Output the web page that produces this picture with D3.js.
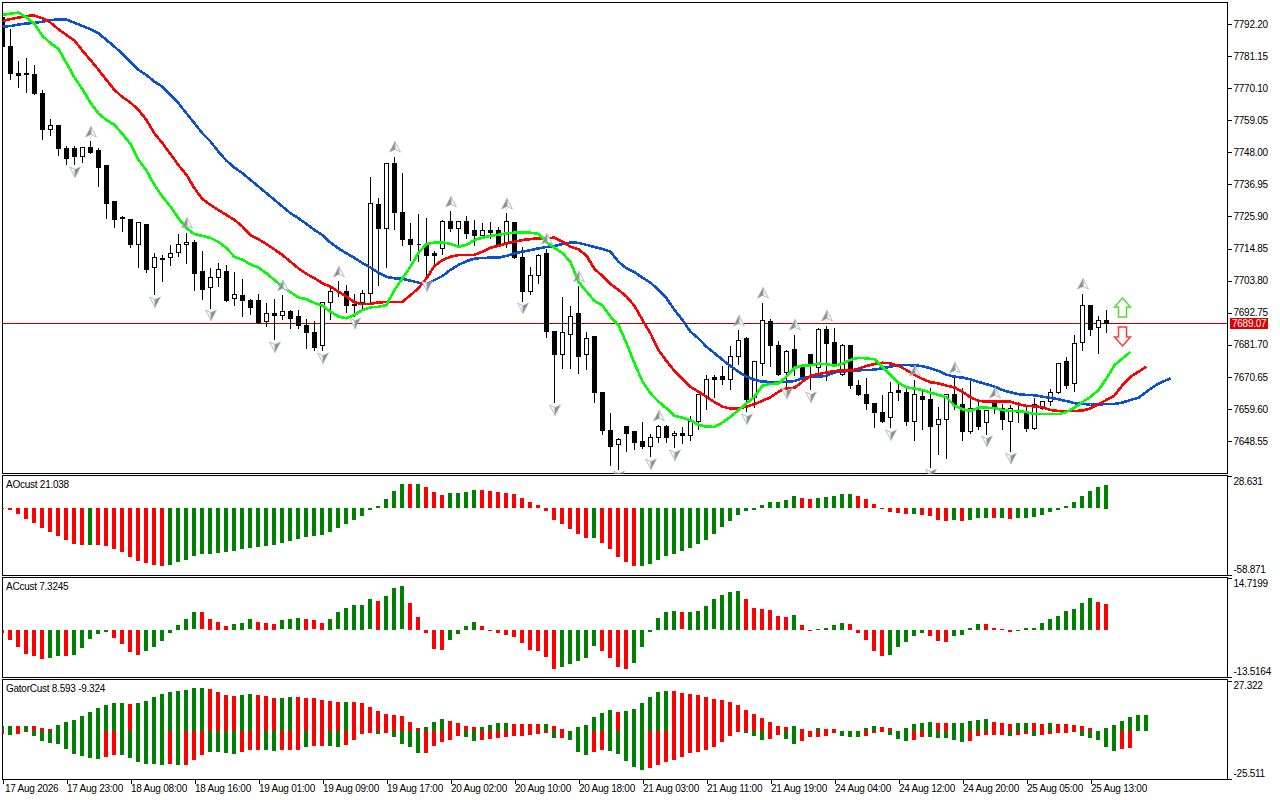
<!DOCTYPE html>
<meta charset="utf-8">
<title>Chart</title>
<style>
  body { margin: 0; background: #fff; }
  text { font: 10px "Liberation Sans", sans-serif; letter-spacing: -0.25px; fill: #000; }
  .frame { fill: none; stroke: #000; shape-rendering: crispEdges; }
  .axis path { display: none; }
  .axis line { stroke: #000; shape-rendering: crispEdges; }
  .axis text { font: 10px "Liberation Sans", sans-serif; letter-spacing: -0.25px; }
</style>
<body>
<svg width="1280" height="800"></svg>
<script src="https://d3js.org/d3.v7.min.js"></script>
<script>
/* candles */
var opens = [7794.6,7784.3,7775.3,7775.0,7774.9,7768.4,7755.7,7757.1,7749.2,7749.2,
7746.4,7749.5,7748.5,7743.3,7730.9,7725.4,7725.0,7716.1,7723.3,7708.2,
7711.2,7711.9,7713.6,7716.1,7717.1,7706.8,7701.3,7704.7,7707.1,7697.5,
7698.5,7697.1,7697.1,7689.6,7692.6,7691.9,7693.3,7691.6,7688.5,7685.8,
7681.3,7696.1,7700.2,7699.9,7695.4,7696.1,7699.5,7729.9,7721.9,7744.0,
7727.4,7718.1,7716.4,7716.1,7713.3,7715.0,7724.0,7721.6,7724.3,7720.9,
7719.5,7721.2,7720.9,7716.8,7723.7,7711.6,7700.2,7705.7,7713.0,7686.1,
7678.5,7685.4,7692.3,7678.5,7684.4,7665.1,7652.3,7647.5,7653.7,7651.7,
7648.5,7646.8,7649.6,7653.4,7650.6,7651.3,7650.6,7655.4,7664.0,7670.3,
7670.6,7669.9,7677.5,7683.7,7663.4,7675.4,7689.6,7681.6,7672.0,7679.9,
7674.0,7678.5,7674.0,7687.1,7682.6,7671.6,7681.3,7667.8,7664.7,7661.3,
7658.2,7656.5,7665.8,7665.4,7655.4,7664.0,7663.0,7654.1,7655.8,7664.7,
7661.0,7651.7,7658.9,7654.8,7661.3,7659.9,7655.1,7658.9,7658.2,7653.0,
7659.9,7662.0,7665.4,7675.8,7668.2,7682.6,7695.1,7687.5,7690.2];
var highs = [7795.6,7790.5,7779.8,7780.8,7778.4,7769.8,7759.8,7757.4,7750.2,7750.2,
7749.9,7751.9,7749.8,7743.6,7731.2,7726.4,7725.0,7723.7,7723.4,7713.6,
7712.9,7716.1,7720.2,7720.5,7717.8,7714.3,7708.2,7710.2,7709.5,7707.1,
7704.4,7697.5,7699.2,7696.1,7697.8,7698.9,7694.0,7693.7,7690.6,7689.9,
7696.5,7702.3,7703.7,7702.6,7699.5,7700.9,7739.8,7732.6,7744.0,7746.7,
7741.2,7723.7,7726.8,7725.4,7714.3,7725.0,7727.8,7724.3,7726.1,7725.0,
7723.7,7724.3,7722.6,7727.1,7723.8,7715.4,7708.8,7713.0,7715.0,7686.4,
7698.2,7695.1,7702.0,7686.4,7684.5,7665.2,7658.2,7649.6,7653.8,7651.8,
7655.1,7651.0,7654.1,7654.1,7652.3,7653.4,7657.5,7664.4,7671.3,7671.3,
7674.4,7681.6,7686.8,7684.7,7676.1,7696.4,7690.9,7683.0,7679.9,7685.4,
7674.1,7678.6,7687.5,7688.5,7687.5,7682.3,7681.4,7669.9,7670.3,7661.4,
7664.4,7668.9,7669.2,7667.1,7669.6,7666.1,7667.1,7660.3,7664.4,7670.6,
7667.1,7670.3,7662.0,7659.3,7662.0,7661.6,7661.0,7662.3,7661.0,7663.7,
7662.3,7666.5,7675.1,7677.8,7685.4,7699.5,7695.2,7691.9,7693.7];
var lows = [7784.3,7773.6,7770.8,7768.8,7768.1,7752.6,7754.0,7747.1,7744.0,7744.0,
7745.0,7747.8,7736.4,7725.4,7722.3,7721.2,7715.7,7708.5,7707.1,7699.2,
7703.7,7709.5,7712.3,7709.9,7700.6,7697.8,7694.7,7702.0,7697.1,7695.7,
7691.7,7692.6,7689.2,7688.5,7683.7,7690.9,7687.5,7687.5,7680.9,7679.9,
7679.9,7690.9,7698.5,7693.3,7691.9,7694.7,7696.4,7702.6,7708.8,7721.6,
7716.1,7711.2,7710.6,7704.7,7708.8,7713.0,7721.2,7715.4,7718.5,7716.4,
7718.8,7718.5,7716.1,7715.7,7711.6,7697.1,7699.2,7703.3,7684.7,7662.0,
7674.0,7673.7,7672.0,7673.4,7662.0,7651.0,7640.3,7639.2,7645.4,7646.1,
7646.4,7643.4,7648.5,7648.5,7646.5,7648.2,7649.2,7653.0,7659.9,7664.0,
7668.2,7666.8,7675.1,7658.9,7660.3,7671.6,7674.4,7671.6,7667.8,7671.3,
7669.6,7666.5,7670.6,7669.9,7675.1,7671.5,7667.1,7664.4,7659.9,7653.7,
7655.4,7653.4,7662.7,7654.4,7649.2,7653.0,7639.9,7644.4,7642.7,7659.6,
7649.2,7651.6,7653.0,7651.3,7658.5,7653.0,7645.4,7655.1,7652.0,7652.9,
7659.8,7661.0,7665.3,7667.1,7665.8,7679.9,7685.1,7678.9,7686.4];
var closes = [7784.3,7775.0,7774.3,7774.9,7768.4,7755.7,7757.1,7749.2,7745.7,7746.7,
7749.8,7748.1,7742.6,7730.5,7725.0,7725.3,7716.4,7723.7,7707.8,7711.6,
7711.3,7713.3,7716.4,7717.1,7706.1,7700.6,7704.7,7707.5,7697.1,7698.9,
7697.1,7694.4,7689.2,7692.6,7691.9,7693.3,7690.9,7688.2,7685.8,7680.9,
7696.4,7700.2,7700.1,7695.1,7695.3,7699.5,7730.2,7721.6,7744.0,7727.1,
7717.8,7716.1,7716.3,7712.3,7712.3,7724.0,7721.6,7724.0,7720.2,7719.2,
7721.2,7720.5,7716.4,7724.3,7711.6,7700.2,7705.7,7712.6,7686.1,7678.5,
7685.8,7691.6,7677.8,7684.0,7665.1,7652.0,7646.5,7648.9,7651.3,7648.2,
7646.5,7649.6,7653.4,7649.9,7651.3,7650.6,7655.4,7664.4,7669.9,7669.9,
7669.9,7677.5,7683.3,7662.7,7676.1,7689.9,7681.3,7671.6,7679.5,7674.0,
7670.3,7674.4,7687.1,7682.0,7675.1,7681.6,7667.5,7664.4,7661.3,7658.2,
7655.4,7665.4,7665.1,7655.1,7664.7,7662.7,7653.4,7655.8,7664.4,7661.0,
7651.7,7659.9,7653.7,7659.2,7659.9,7655.8,7659.6,7658.5,7653.0,7661.0,
7662.3,7665.1,7675.1,7667.8,7682.3,7695.1,7687.1,7689.9,7689.07];

/* alligator lines */
var lipsGreen = [7795.3,7795.8,7796.1,7794.5,7792.2,7788.1,7785.6,7783.6,7778.7,7773.8,
7769.7,7765.1,7761.4,7759.1,7757.4,7754.3,7750.9,7745.4,7741.7,7736.7,
7732.7,7729.3,7725.3,7721.8,7719.8,7719.2,7718.5,7717.1,7715.0,7712.0,
7711.0,7709.4,7708.3,7706.3,7704.0,7701.7,7699.8,7698.0,7697.4,7696.1,
7695.2,7693.1,7691.4,7690.8,7692.0,7693.7,7694.6,7694.8,7695.4,7700.6,
7704.6,7708.6,7713.4,7716.4,7716.9,7717.0,7716.4,7715.5,7716.1,7717.8,
7718.6,7719.2,7719.6,7720.1,7720.3,7720.4,7720.3,7719.9,7717.1,7715.0,
7713.3,7710.2,7703.4,7700.0,7696.8,7695.2,7691.4,7688.5,7682.2,7675.3,
7669.0,7665.0,7662.1,7659.8,7657.2,7656.6,7655.7,7654.1,7653.5,7653.4,
7654.9,7656.9,7659.2,7661.5,7663.8,7667.6,7668.2,7668.3,7670.7,7673.8,
7674.5,7674.6,7675.2,7675.0,7674.5,7675.1,7676.5,7677.2,7677.0,7676.7,
7674.1,7671.3,7668.6,7667.0,7666.6,7666.1,7665.2,7664.4,7663.6,7660.7,
7659.5,7658.9,7660.0,7660.0,7659.9,7659.2,7658.9,7658.8,7658.5,7657.8,
7657.8,7657.8,7657.8,7658.5,7660.0,7661.9,7663.8,7666.1,7670.1,7674.7,
7677.0,7679.3];
var teethRed = [7793.2,7793.9,7794.4,7795.0,7795.1,7794.2,7792.7,7790.4,7788.4,7786.5,
7783.0,7779.8,7776.4,7772.9,7769.5,7767.0,7765.1,7762.6,7759.1,7754.5,
7751.1,7747.4,7743.6,7740.2,7735.6,7731.9,7729.9,7728.1,7726.4,7724.7,
7722.4,7719.5,7718.0,7716.4,7714.5,7712.6,7710.3,7708.0,7706.1,7704.6,
7702.9,7701.7,7700.0,7698.3,7696.3,7695.7,7695.8,7696.3,7696.4,7696.4,
7696.5,7698.8,7701.2,7704.6,7708.8,7710.9,7712.0,7712.6,7712.6,7712.7,
7713.8,7715.1,7715.8,7716.6,7717.2,7717.8,7718.1,7718.4,7718.4,7718.6,
7717.2,7715.5,7714.6,7712.4,7707.8,7705.4,7702.6,7700.6,7698.3,7695.1,
7690.2,7685.6,7679.9,7676.1,7672.7,7669.9,7667.2,7665.5,7663.8,7661.9,
7660.4,7659.7,7659.8,7660.4,7661.2,7662.4,7663.6,7665.5,7666.7,7666.9,
7669.0,7671.0,7671.6,7672.1,7672.7,7672.8,7672.8,7673.4,7674.4,7675.1,
7675.5,7675.3,7674.4,7673.0,7671.3,7669.9,7668.8,7668.4,7667.6,7667.0,
7665.5,7663.6,7662.4,7662.1,7662.1,7662.1,7662.1,7661.2,7660.6,7660.5,
7660.2,7659.2,7658.9,7658.9,7658.9,7659.0,7659.8,7661.2,7662.7,7664.2,
7667.8,7670.7,7672.4,7674.2];
var jawBlue = [7791.3,7791.5,7792.0,7792.4,7792.6,7793.0,7793.6,7793.7,7793.7,7792.6,
7791.5,7790.4,7789.0,7786.7,7784.4,7781.9,7779.2,7776.4,7774.6,7772.3,
7770.6,7767.7,7764.9,7761.4,7758.0,7754.5,7751.7,7748.2,7745.1,7742.7,
7740.8,7738.5,7736.2,7733.9,7731.6,7729.3,7727.0,7725.3,7723.3,7721.2,
7719.5,7716.9,7714.9,7713.2,7711.6,7709.8,7708.3,7706.5,7705.1,7704.6,
7704.4,7703.8,7703.1,7702.6,7704.0,7705.4,7707.5,7709.2,7710.5,7711.4,
7711.6,7711.7,7711.7,7712.3,7713.2,7713.8,7714.3,7714.9,7715.4,7715.7,
7716.4,7716.9,7716.8,7716.1,7715.4,7714.7,7713.8,7710.3,7708.0,7706.7,
7704.8,7703.1,7700.6,7697.7,7693.7,7690.2,7686.2,7683.9,7681.0,7678.8,
7676.5,7674.4,7672.4,7670.7,7669.6,7669.0,7668.9,7668.9,7668.9,7669.2,
7670.2,7670.7,7670.7,7671.0,7672.2,7672.4,7672.8,7672.9,7673.0,7673.1,
7673.6,7674.2,7674.6,7674.7,7674.6,7674.3,7673.6,7672.7,7671.4,7670.7,
7670.4,7669.8,7668.9,7668.1,7667.3,7666.1,7665.3,7664.7,7664.4,7664.3,
7663.8,7663.4,7662.9,7662.3,7661.6,7661.3,7661.1,7661.1,7661.3,7661.3,
7661.8,7662.7,7663.4,7665.5,7667.5,7668.9,7670.2];

/* fractal bars */
var fractalUp = [11,23,35,42,49,56,63,68,72,82,92,95,99,103,114,119,124,135];
var fractalDown = [9,19,26,34,40,44,53,65,69,77,81,84,93,98,101,111,116,123,126];

/* oscillators */
var aoValues = [-0.3,-1.5,-5.3,-9.5,-13.3,-17.8,-21.3,-24.9,-28.4,-32.0,
-32.9,-32.9,-32.9,-33.7,-36.4,-39.1,-43.5,-47.1,-48.8,-50.6,
-51.5,-50.6,-48.0,-46.2,-42.6,-40.8,-40.8,-40.0,-39.1,-38.2,
-36.4,-35.5,-34.6,-33.7,-32.9,-31.1,-29.3,-27.5,-25.8,-24.9,
-24.0,-21.3,-17.8,-14.2,-10.7,-7.1,-1.8,1.8,8.0,15.1,
21.3,21.3,21.3,18.6,14.2,11.5,13.3,13.3,14.2,16.0,
16.0,15.1,14.2,13.3,12.4,8.9,5.3,2.7,-2.7,-10.7,
-14.2,-18.6,-23.1,-26.6,-26.6,-31.1,-36.4,-43.5,-48.0,-51.5,
-51.5,-49.7,-46.2,-42.6,-40.8,-38.2,-35.5,-32.0,-28.4,-23.1,
-16.9,-11.5,-6.2,-2.7,-1.8,2.7,5.3,5.3,7.1,10.7,
8.9,8.0,8.9,9.8,10.7,12.4,12.4,10.7,8.0,3.6,
-0.8,-3.6,-4.4,-5.3,-5.3,-6.2,-7.1,-10.7,-11.5,-10.7,
-11.5,-10.7,-8.9,-8.9,-8.9,-8.9,-9.8,-8.9,-8.9,-8.0,
-6.2,-3.6,-1.8,1.8,5.3,10.7,15.1,18.6,21.038];
var aoRuns = [11,1,9,30,1,1,3,4,14,1,5,20,2,5,7,1,4,1,1,3,1,1,1,12]; // red first

var acValues = [-0.9,-2.9,-4.9,-6.8,-7.4,-8.3,-8.0,-7.4,-7.4,-7.1,
-5.1,-2.6,-1.1,-0.6,-2.3,-4.0,-6.3,-7.1,-6.0,-4.9,
-3.1,-0.9,1.4,3.1,4.9,4.9,3.1,2.3,1.1,1.7,
2.0,2.9,2.3,2.0,1.7,2.6,2.9,3.4,3.1,2.6,
2.0,3.1,4.9,6.3,7.1,7.1,8.6,8.3,9.7,12.0,
12.3,7.7,3.7,-0.9,-5.4,-5.7,-2.9,-1.1,1.1,2.3,
1.1,-0.2,-0.9,-1.4,-2.0,-3.7,-5.7,-6.0,-7.7,-11.1,
-10.6,-9.7,-8.8,-8.0,-4.6,-6.0,-8.0,-10.6,-11.1,-9.4,
-4.9,-0.6,3.4,5.1,5.4,4.9,5.1,5.4,6.8,8.6,
10.0,10.8,11.1,8.8,6.3,6.0,5.7,4.0,3.7,4.3,
1.4,-0.2,0.2,0.6,1.4,2.0,1.7,-0.9,-2.9,-6.0,
-7.4,-7.1,-4.9,-3.4,-1.7,-0.9,-1.7,-3.1,-3.4,-1.7,
-1.4,0.6,1.7,1.7,0.6,0.3,-0.6,-0.2,0.6,0.6,
2.0,3.1,4.0,5.4,6.0,7.7,9.1,8.0,7.3245];
var acRuns = [6,2,1,5,4,7,4,3,3,3,3,6,1,3,5,4,10,5,4,6,1,7,6,1,2,4,5,5,3,4,4,10,2]; // red first

var gatorUp = [2.7,2.7,2.7,2.7,2.7,1.6,1.1,3.2,4.9,5.9,
8.1,10.2,12.4,14.0,15.1,15.1,14.6,15.1,16.2,18.3,
19.9,21.0,21.6,22.1,23.2,23.2,22.6,21.0,19.4,18.9,
19.4,19.9,19.4,18.9,17.8,17.8,18.3,18.3,17.8,17.8,
16.7,16.2,15.6,15.6,15.6,15.1,12.9,10.8,9.2,8.6,
8.1,4.9,1.6,2.2,4.9,6.5,5.4,4.3,2.7,2.2,
2.2,3.2,4.3,4.3,3.8,3.8,3.8,3.8,3.8,2.7,
1.1,0.5,2.2,3.2,7.5,9.7,11.3,10.2,10.8,11.9,
15.1,18.3,21.0,21.6,21.6,20.5,19.9,19.4,18.3,17.3,
16.7,15.6,14.0,11.3,9.2,7.0,4.9,2.7,2.2,2.7,
1.1,0.5,1.6,1.1,1.1,0.5,0,0.5,1.6,2.7,
2.2,1.6,0.5,1.6,3.8,4.3,4.9,4.3,4.3,4.3,
4.3,5.4,5.9,6.5,4.9,4.3,3.8,4.3,4.3,4.3,
3.8,4.3,3.8,3.8,3.2,2.7,1.6,0.5,1.6,3.2,
5.4,7.5,8.6,8.593];
var gatorUpRuns = [2,1,1,3,9,1,9,4,2,3,2,6,1,9,3,4,4,4,1,2,6,1,6,15,1,2,1,3,4,3,4,2,5,3,2,2,1,6,6]; // green first

var gatorDown = [-1.6,-2.2,-1.6,-0.5,-2.7,-5.4,-6.5,-7.0,-9.7,-12.4,
-13.5,-14.6,-15.1,-14.0,-12.9,-12.9,-14.6,-16.7,-17.8,-17.8,
-18.3,-17.8,-18.3,-18.3,-15.6,-12.9,-11.3,-11.3,-11.9,-12.4,
-11.3,-10.2,-10.2,-10.2,-10.8,-10.2,-10.2,-10.2,-8.6,-8.1,
-8.1,-8.1,-8.6,-7.5,-4.9,-1.6,-1.1,-1.6,-1.1,-3.2,
-7.0,-8.6,-11.9,-11.9,-8.1,-5.9,-4.9,-2.7,-3.2,-5.4,
-4.9,-4.3,-3.8,-3.2,-2.7,-2.7,-2.2,-1.6,-1.1,-3.8,
-3.8,-4.9,-11.3,-12.9,-11.3,-10.2,-10.8,-12.4,-16.2,-19.4,
-21.0,-19.9,-18.3,-16.7,-15.6,-14.0,-11.9,-11.3,-10.2,-8.6,
-5.9,-2.7,-0.5,-1.1,-2.7,-4.9,-4.3,-2.2,-4.3,-7.0,
-5.4,-3.2,-3.2,-2.7,-1.1,-2.7,-3.2,-3.2,-2.7,-1.1,
-0.5,-2.2,-4.3,-5.4,-4.9,-3.2,-3.2,-3.8,-3.8,-4.9,
-5.9,-5.4,-2.7,-2.2,-2.2,-2.2,-2.7,-2.2,-1.6,-2.7,
-2.2,-1.6,-1.1,-1.1,-0.5,-2.7,-3.8,-4.9,-8.6,-10.8,
-9.7,-9.324];
var gatorDownRuns = [1,1,2,9,2,6,1,1,3,4,3,2,3,1,2,2,4,1,1,4,5,2,9,1,1,3,2,5,12,3,2,2,5,3,3,3,2,5,5,1,2,1,5,5,2]; // red first

/* axis labels */
var priceTicks = [7792.20,7781.15,7770.10,7759.05,7748.00,7736.95,7725.90,7714.85,7703.80,7692.75,7681.70,7670.65,7659.60,7648.55];
var timeLabels = ["17 Aug 2026","17 Aug 23:00","18 Aug 08:00","18 Aug 16:00","19 Aug 01:00","19 Aug 09:00","19 Aug 17:00","20 Aug 02:00","20 Aug 10:00","20 Aug 18:00","21 Aug 03:00","21 Aug 11:00","21 Aug 19:00","24 Aug 04:00","24 Aug 12:00","24 Aug 20:00","25 Aug 05:00","25 Aug 13:00"];
var lastPrice = 7689.07;

var GREEN = "#008000", RED = "#ff0000";

function expandRuns(runs, first, second) {
  var out = [];
  runs.forEach(function(n, k) {
    for (var j = 0; j < n; j++) out.push(k % 2 == 0 ? first : second);
  });
  return out;
}

var svg = d3.select("svg");
var left = 2.5, right = 1227.5;

var x = d3.scaleLinear().domain([0, 153]).range([left, left + 153 * 8]);
var y = d3.scaleLinear().domain([7637.35, 7799.61]).range([473.5, 2.5]);
var yAO = d3.scaleLinear().domain([-58.871, 28.631]).range([575, 476]);
var yAC = d3.scaleLinear().domain([-13.5164, 14.7199]).range([677, 578]);
var yGator = d3.scaleLinear().domain([-25.511, 27.322]).range([779, 680.5]);

function addPanel(id, top, bottom) {
  svg.append("clipPath").attr("id", id).append("rect")
    .attr("x", left).attr("y", top).attr("width", right - left).attr("height", bottom - top);
  svg.append("rect").attr("class", "frame")
    .attr("x", left).attr("y", top).attr("width", right - left).attr("height", bottom - top);
  return svg.append("g").attr("clip-path", "url(#" + id + ")");
}

var main = addPanel("clipMain", 2.5, 473.5);
var aoG = addPanel("clipAO", 475.5, 575.5);
var acG = addPanel("clipAC", 577.5, 677.5);
var gatorG = addPanel("clipGator", 679.5, 779.5);

/* price line under the candles */
main.append("line")
  .attr("x1", left).attr("x2", right)
  .attr("y1", Math.floor(y(lastPrice)) + 0.5).attr("y2", Math.floor(y(lastPrice)) + 0.5)
  .attr("stroke", "#b00000").attr("shape-rendering", "crispEdges");

function py(v) { return Math.round(y(v) - 0.5) + 0.5; }

var candles = main.append("g").attr("shape-rendering", "crispEdges")
  .selectAll("g").data(opens).join("g");

candles.append("line")
  .attr("x1", function(d, i) { return x(i); })
  .attr("x2", function(d, i) { return x(i); })
  .attr("y1", function(d, i) { return py(highs[i]); })
  .attr("y2", function(d, i) { return py(lows[i]) + 1; })
  .attr("stroke", "#000");

candles.append("path")
  .attr("d", function(d, i) {
    var a = py(opens[i]), b = py(closes[i]);
    return "M" + (x(i) - 2) + "," + a + "H" + (x(i) + 2) + "V" + b + "H" + (x(i) - 2) + "Z";
  })
  .attr("fill", function(d, i) { return closes[i] > opens[i] ? "#fff" : "#000"; })
  .attr("stroke", "#000");

/* alligator */
var line = d3.line().x(function(d, i) { return x(i); }).y(function(d) { return y(d); });
[[jawBlue, "#0a50d2"], [teethRed, "#ff0000"], [lipsGreen, "#00ff00"]].forEach(function(s) {
  main.append("path").datum(s[0])
    .attr("d", line)
    .attr("fill", "none")
    .attr("stroke", s[1])
    .attr("stroke-width", 2.6)
    .attr("stroke-linejoin", "round")
    .attr("shape-rendering", "crispEdges");
});

/* fractals */
function fractal(g, cx, cy, flip) {
  var a = g.append("g").attr("transform", "translate(" + cx + "," + cy + ")" + (flip ? " rotate(180)" : ""));
  a.append("path").attr("d", "M0,-5.5L5.5,5L0,2.5Z")
    .attr("fill", "#f2f5f8").attr("stroke", "#a9bccd").attr("stroke-width", 0.9);
  a.append("path").attr("d", "M0,-5.5L-5.5,5L0,2.5Z")
    .attr("fill", "#8c8c8c").attr("stroke", "#b3b3b3").attr("stroke-width", 0.7);
}
fractalUp.forEach(function(i) { fractal(main, x(i) + 0.5, y(highs[i]) - 9, false); });
fractalDown.forEach(function(i) { fractal(main, x(i) + 0.5, y(lows[i]) + 8, true); });

/* signal arrows */
var signalBar = 140;
function signal(tip, dir, color) {
  var c = x(signalBar);
  var t = y(tip);
  svg.append("path")
    .attr("d", "M" + c + "," + t + "L" + (c + 8) + "," + (t + dir * 9) + "H" + (c + 4) + "V" + (t + dir * 19) + "H" + (c - 4) + "V" + (t + dir * 9) + "H" + (c - 8) + "Z")
    .attr("fill", "#fff").attr("stroke", color).attr("stroke-width", 1.5);
}
signal(7697.8, 1, "#55d935");
signal(7681.3, -1, "#f53c3c");

/* histograms */
function histogram(g, scale, values, colors) {
  g.append("g").attr("shape-rendering", "crispEdges")
    .selectAll("rect").data(values).join("rect")
    .attr("x", function(d, i) { return x(i) - 2.5; })
    .attr("width", 4)
    .attr("y", function(d) { return Math.round(Math.min(scale(d), scale(0))); })
    .attr("height", function(d) { return Math.max(1, Math.round(Math.abs(scale(d) - scale(0)))); })
    .attr("fill", function(d, i) { return colors[i]; });
}
histogram(aoG, yAO, aoValues, expandRuns(aoRuns, RED, GREEN));
histogram(acG, yAC, acValues, expandRuns(acRuns, RED, GREEN));
histogram(gatorG, yGator, gatorUp, expandRuns(gatorUpRuns, GREEN, RED));
histogram(gatorG, yGator, gatorDown, expandRuns(gatorDownRuns, RED, GREEN));

/* panel captions */
[["AOcust 21.038", 488], ["ACcust 7.3245", 590], ["GatorCust 8.593 -9.324", 692]].forEach(function(c) {
  svg.append("text").attr("x", 6).attr("y", c[1]).text(c[0]);
});

/* price scale */
svg.append("g").attr("class", "axis")
  .attr("transform", "translate(" + right + ",0)")
  .call(d3.axisRight(y).tickValues(priceTicks).tickSize(4).tickPadding(2).tickFormat(d3.format(".2f")));

function panelAxis(scale, labels) {
  var g = svg.append("g").attr("class", "axis")
    .attr("transform", "translate(" + right + ",0)")
    .call(d3.axisRight(scale).tickValues(scale.domain()).tickSize(4).tickPadding(2)
      .tickFormat(function(d, i) { return labels[i]; }));
  g.selectAll("text").attr("dy", function(d, i) { return i == 0 ? "-0.3em" : "0.8em"; });
}
panelAxis(yAO, ["-58.871", "28.631"]);
panelAxis(yAC, ["-13.5164", "14.7199"]);
panelAxis(yGator, ["-25.511", "27.322"]);

/* current price tag */
var tagY = Math.floor(y(lastPrice));
svg.append("rect").attr("x", 1230).attr("y", tagY - 5).attr("width", 38).attr("height", 11).attr("fill", "#e00000");
svg.append("text").attr("x", 1232).attr("y", tagY + 4).style("fill", "#fff").text(lastPrice.toFixed(2));

/* time axis */
var timeAxis = svg.append("g").attr("class", "axis")
  .attr("transform", "translate(0,779.5)")
  .call(d3.axisBottom(x)
    .tickValues(timeLabels.map(function(d, i) { return i * 8; }))
    .tickSize(4)
    .tickFormat(function(d, i) { return timeLabels[i]; }));
timeAxis.selectAll("text").attr("text-anchor", "start").attr("dx", 0).attr("y", 5).attr("dy", "0.71em");
timeAxis.select("g text").attr("dx", 2);
</script>
</body>
